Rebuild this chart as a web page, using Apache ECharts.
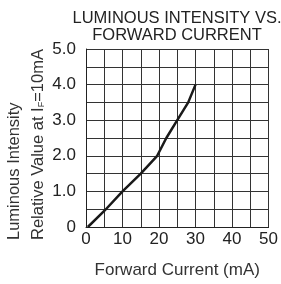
<!DOCTYPE html>
<html>
<head>
<meta charset="utf-8">
<script src="https://cdn.jsdelivr.net/npm/echarts@6/dist/echarts.min.js"></script>
<style>
  html, body { margin: 0; padding: 0; background: #fff; }
  #chart { width: 281px; height: 284px; }
</style>
</head>
<body>
<div id="chart"></div>
<script>
// forward current (mA) vs relative luminous intensity
var currentMA = [0.5, 5, 10, 15, 19.5, 22, 25, 28, 30];
var intensity = [0, 0.45, 1.0, 1.5, 2.0, 2.5, 3.0, 3.5, 4.0];
var titleLines = ['LUMINOUS INTENSITY VS.', 'FORWARD CURRENT'];

var chart = echarts.init(document.getElementById('chart'));
var font = 'Arial, "Liberation Sans", sans-serif';

var points = currentMA.map(function (x, i) { return [x, intensity[i]]; });

var option = {
  animation: false,
  title: {
    text: titleLines.join('\n'),
    left: 172,
    top: 5,
    textAlign: 'center',
    textStyle: { fontFamily: font, fontSize: 16.5, fontWeight: 'normal', color: '#222', lineHeight: 17 }
  },
  grid: { left: 86, right: 12, top: 49, bottom: 49, containLabel: false },
  xAxis: {
    type: 'value', min: 0, max: 50, interval: 5,
    name: 'Forward Current (mA)', nameLocation: 'middle', nameGap: 35,
    nameTextStyle: { fontFamily: font, fontSize: 17, color: '#333' },
    axisLine: { show: true, lineStyle: { color: '#222', width: 1 } },
    axisTick: { show: false },
    axisLabel: {
      margin: 4, fontFamily: font, fontSize: 17, color: '#222',
      formatter: function (v) { return v % 10 === 0 ? String(v) : ''; }
    },
    splitLine: { show: true, lineStyle: { color: '#333', width: 1 } }
  },
  yAxis: {
    type: 'value', min: 0, max: 5, interval: 0.5,
    axisLine: { show: true, lineStyle: { color: '#222', width: 1 } },
    axisTick: { show: false },
    axisLabel: {
      margin: 10, fontFamily: font, fontSize: 17, color: '#222',
      formatter: function (v) {
        if (v === 0) return '0';
        return Math.abs(v % 1) < 1e-6 ? v.toFixed(1) : '';
      }
    },
    splitLine: { show: true, lineStyle: { color: '#333', width: 1 } }
  },
  graphic: [
    {
      type: 'text', x: 14, y: 240, rotation: Math.PI / 2,
      style: { text: 'Luminous Intensity', font: '16.5px ' + font, fill: '#333',
        textAlign: 'left', textVerticalAlign: 'middle' }
    },
    {
      type: 'text', x: 38, y: 240, rotation: Math.PI / 2,
      style: {
        text: 'Relative Value at I{s|F}=10mA', font: '16.5px ' + font, fill: '#333',
        textAlign: 'left', textVerticalAlign: 'middle',
        rich: { s: { fontSize: 9, fontFamily: font, fill: '#333', padding: [8, 0, 0, 0] } }
      }
    }
  ],
  series: [{
    type: 'line',
    data: points,
    showSymbol: false,
    lineStyle: { color: '#1a1a1a', width: 2.5 },
    z: 5
  }]
};

chart.setOption(option);
window.addEventListener('resize', function () { chart.resize(); });
</script>
</body>
</html>
